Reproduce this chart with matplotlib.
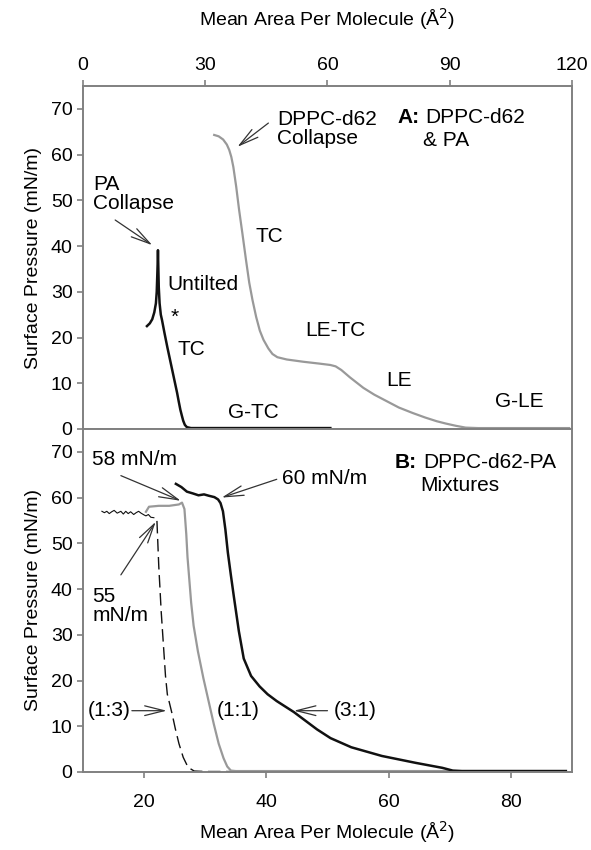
import matplotlib
matplotlib.use("Agg")
import matplotlib.pyplot as plt

plt.rcParams['font.family'] = ['Liberation Sans', 'DejaVu Sans']
plt.rcParams['font.size'] = 14

# ---- panel A data ----
dppc_x = [32.2, 33.3, 34.4, 35.3, 35.9, 36.4, 36.9, 37.6, 38.3, 39.1, 40.0, 40.8,
          41.6, 42.5, 43.4, 44.3, 45.5, 46.5, 47.7, 50.0, 54.1, 58.0, 60.7, 62.0,
          63.4, 65.5, 68.8, 71.5, 74.5, 77.5, 80.9, 84.0, 86.8, 89.0, 91.5, 93.9,
          97.0, 119.3]
dppc_y = [64.3, 64.0, 63.3, 62.2, 61.0, 59.5, 57.3, 53.0, 48.0, 42.9, 37.0, 32.0,
          28.2, 24.5, 21.5, 19.5, 17.6, 16.4, 15.7, 15.2, 14.7, 14.3, 14.0, 13.7,
          12.9, 11.3, 9.0, 7.5, 6.1, 4.7, 3.5, 2.5, 1.7, 1.2, 0.7, 0.3,
          0.2, 0.2]

pa_x = [15.7, 16.4, 17.0, 17.5, 17.9, 18.1, 18.25, 18.35, 18.4, 18.5, 18.6, 18.8,
        19.1, 19.4, 20.0, 20.7, 21.3, 21.9, 22.5, 23.1, 23.5, 23.9, 24.3, 24.6,
        25.0, 25.5, 26.5, 60.7]
pa_y = [22.5, 23.1, 24.0, 25.5, 27.5, 30.0, 34.0, 37.0, 39.1, 35.0, 31.0, 27.5,
        25.0, 23.8, 21.0, 17.9, 15.4, 12.9, 10.4, 7.9, 6.0, 4.2, 2.8, 1.8,
        0.9, 0.4, 0.2, 0.2]

# ---- panel B data ----
mix13_noise_x = [13.1, 13.5, 13.9, 14.3, 14.7, 15.1, 15.6, 16.2, 16.6, 17.0, 17.4,
                 17.8, 18.3, 18.7, 19.1, 19.5, 20.0, 20.3, 20.7, 21.1, 21.6]
mix13_noise_y = [57.0, 56.7, 57.0, 56.5, 56.9, 57.2, 56.6, 57.0, 56.4, 57.0, 56.5,
                 56.9, 56.3, 56.7, 57.0, 56.6, 56.2, 56.0, 56.3, 55.7, 55.6]
mix13_x = [22.1, 22.4, 22.8, 23.2, 23.5, 23.8, 24.2, 24.6, 25.1, 25.7, 26.4, 27.2,
           28.2, 30.0, 89.0]
mix13_y = [54.9, 45.0, 35.0, 27.0, 21.0, 17.0, 14.8, 12.6, 9.5, 6.2, 3.2, 1.0,
           0.2, 0.1, 0.1]

mix11_x = [20.3, 20.8, 22.4, 24.1, 25.7, 26.2, 26.6, 26.9, 27.1, 27.4, 27.7, 28.1,
           28.8, 29.7, 30.6, 31.4, 32.2, 33.0, 33.6, 34.2, 35.0, 89.0]
mix11_y = [56.9, 58.0, 58.2, 58.2, 58.5, 58.9, 57.5, 52.0, 47.0, 42.0, 37.0, 32.0,
           26.4, 20.5, 15.2, 10.5, 6.2, 3.0, 1.2, 0.3, 0.2, 0.2]

mix31_x = [25.2, 26.1, 27.0, 28.0, 28.9, 29.8, 30.6, 31.5, 32.1, 32.5, 32.9, 33.3,
           33.7, 34.2, 34.7, 35.5, 36.3, 37.5, 38.9, 40.2, 41.7, 43.1, 44.5, 46.1,
           48.3, 50.5, 53.9, 58.9, 64.4, 68.8, 70.5, 72.0, 89.0]
mix31_y = [63.0, 62.3, 61.3, 60.9, 60.5, 60.7, 60.4, 60.1, 59.6, 58.8, 57.0, 53.0,
           48.0, 43.0, 38.2, 30.8, 24.8, 21.0, 18.7, 17.0, 15.5, 14.3, 13.1, 11.5,
           9.3, 7.4, 5.4, 3.5, 2.0, 0.9, 0.3, 0.2, 0.2]

yticks = [0, 10, 20, 30, 40, 50, 60, 70]
top_xticks = [0, 30, 60, 90, 120]
bot_xticks = [20, 40, 60, 80]

BLACK = '#111111'
GRAY = '#999999'
SPINE = '#808080'
xlabel = 'Mean Area Per Molecule (Å$^{2}$)'
ylabel = 'Surface Pressure (mN/m)'
FS = 15  # annotation size

fig = plt.figure(figsize=(5.91, 8.5), dpi=100)
axA = fig.add_axes([0.1404, 0.4953, 0.8274, 0.4035])
axB = fig.add_axes([0.1404, 0.0918, 0.8274, 0.4035])

for ax in (axA, axB):
    for s in ax.spines.values():
        s.set_color(SPINE)
        s.set_linewidth(1.4)
    ax.set_ylim(0, 75)
    ax.set_yticks(yticks)
    ax.tick_params(direction='out', length=4, width=1.2, color=SPINE, labelsize=14)
    ax.set_ylabel(ylabel, fontsize=14, labelpad=6)

# panel A
axA.plot(dppc_x, dppc_y, color=GRAY, lw=1.6)
axA.plot(pa_x, pa_y, color=BLACK, lw=1.8)
axA.set_xlim(0, 120)
axA.set_xticks(top_xticks)
axA.xaxis.tick_top()
axA.xaxis.set_label_position('top')
axA.tick_params(axis='x', pad=5)
axA.set_xlabel(xlabel, fontsize=14, labelpad=22)

arrow = dict(arrowstyle='->,head_length=1.0,head_width=0.25', color='#333333', lw=0.9,
             shrinkA=0, shrinkB=0)

axA.text(2.5, 51.4, 'PA\nCollapse', ha='left', va='center', linespacing=1.0, fontsize=FS)
axA.annotate('', xy=(17.0, 40.2), xytext=(7.9, 45.7), arrowprops=arrow)
axA.text(20.7, 31.5, 'Untilted', ha='left', va='center', fontsize=FS)
axA.text(22.4, 24.5, '*', ha='center', va='center', fontsize=FS)
axA.text(23.1, 17.3, 'TC', ha='left', va='center', fontsize=FS)
axA.text(35.7, 3.5, 'G-TC', ha='left', va='center', fontsize=FS)
axA.text(42.3, 42.0, 'TC', ha='left', va='center', fontsize=FS)
axA.text(54.6, 21.6, 'LE-TC', ha='left', va='center', fontsize=FS)
axA.text(47.7, 65.6, 'DPPC-d62\nCollapse', ha='left', va='center', linespacing=1.0, fontsize=FS)
axA.annotate('', xy=(37.9, 61.7), xytext=(45.5, 66.9), arrowprops=arrow)
axA.text(77.2, 68.2, 'A:', ha='left', va='center', fontweight='bold', fontsize=FS)
axA.text(84.0, 68.2, 'DPPC-d62', ha='left', va='center', fontsize=FS)
axA.text(83.4, 63.0, '& PA', ha='left', va='center', fontsize=FS)
axA.text(74.5, 10.7, 'LE', ha='left', va='center', fontsize=FS)
axA.text(101.0, 6.1, 'G-LE', ha='left', va='center', fontsize=FS)

# panel B
axB.plot(mix13_noise_x, mix13_noise_y, color=BLACK, lw=0.8)
axB.plot(mix13_x, mix13_y, color=BLACK, lw=1.0, dashes=(9, 4))
axB.plot(mix11_x, mix11_y, color=GRAY, lw=1.6)
axB.plot(mix31_x, mix31_y, color=BLACK, lw=1.8)
axB.set_xlim(10, 90)
axB.set_xticks(bot_xticks)
axB.tick_params(axis='x', pad=12)
axB.set_xlabel(xlabel, fontsize=14, labelpad=6)

axB.text(11.5, 68.4, '58 mN/m', ha='left', va='center', fontsize=FS)
axB.annotate('', xy=(26.0, 59.3), xytext=(16.2, 64.8), arrowprops=arrow)
axB.text(42.5, 64.2, '60 mN/m', ha='left', va='center', fontsize=FS)
axB.annotate('', xy=(32.7, 60.0), xytext=(41.7, 64.0), arrowprops=arrow)
axB.text(11.5, 36.3, '55\nmN/m', ha='left', va='center', linespacing=1.0, fontsize=FS)
axB.annotate('', xy=(21.9, 54.7), xytext=(16.2, 43.1), arrowprops=arrow)
axB.text(61.0, 67.7, 'B:', ha='left', va='center', fontweight='bold', fontsize=FS)
axB.text(65.6, 67.7, 'DPPC-d62-PA', ha='left', va='center', fontsize=FS)
axB.text(65.1, 62.6, 'Mixtures', ha='left', va='center', fontsize=FS)
axB.text(10.8, 13.4, '(1:3)', ha='left', va='center', fontsize=FS)
axB.annotate('', xy=(23.7, 13.4), xytext=(18.0, 13.4), arrowprops=arrow)
axB.text(31.9, 13.4, '(1:1)', ha='left', va='center', fontsize=FS)
axB.text(51.0, 13.4, '(3:1)', ha='left', va='center', fontsize=FS)
axB.annotate('', xy=(44.5, 13.4), xytext=(50.0, 13.4), arrowprops=arrow)

fig.savefig('out.png', dpi=100)
